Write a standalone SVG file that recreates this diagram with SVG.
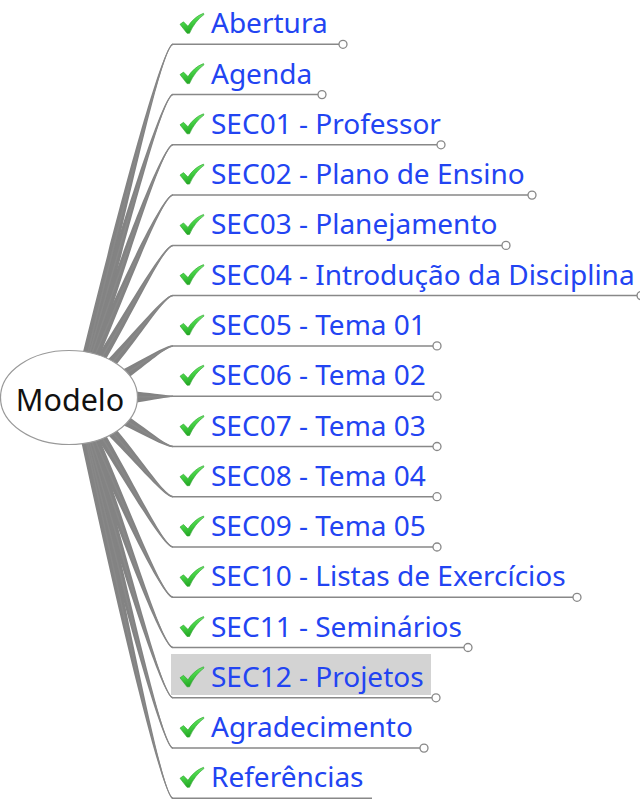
<svg xmlns="http://www.w3.org/2000/svg" xmlns:xlink="http://www.w3.org/1999/xlink" width="640" height="800" viewBox="0 0 640 800">
<style>
.t{font-family:"Noto Sans","Open Sans","DejaVu Sans",sans-serif;font-size:28px;fill:#2244f2}
.root{font-family:"Noto Sans","Open Sans","DejaVu Sans",sans-serif;font-size:30.5px;fill:#111}
.ln{fill:none;stroke:#888;stroke-width:1.5}
.br{fill:#838383}
.end{fill:#fff;stroke:#888;stroke-width:1.3}
</style>
<defs>
<linearGradient id="gg" x1="0" y1="0" x2="0.3" y2="1">
<stop offset="0" stop-color="#b0f7aa"/>
<stop offset="0.45" stop-color="#4bd84b"/>
<stop offset="1" stop-color="#23a823"/>
</linearGradient>
<path id="chk" d="M0,11 L3.5,8.5 L8,13 C11.5,7.5 16.5,2.5 23.5,0 L24,1.2 C18,5.5 13,12 9.5,20 L7,20 Z" fill="url(#gg)" stroke="#2a9f2a" stroke-width="0.6"/>
</defs>
<rect width="640" height="800" fill="#fff"/>
<g id="connectors">
<g class="br">
<path d="M72.14,396.83 C114.64,219.98 162,43.55 173,43.55 L173,45.05 C162,45.05 124.36,222.32 81.86,399.17 Z"/>
<path d="M72.19,396.65 C114.69,245.35 162,93.85 173,93.85 L173,95.35 C162,95.35 124.32,248.05 81.82,399.35 Z"/>
<path d="M72.26,396.41 C114.76,269.81 162,144.05 173,144.05 L173,145.55 C162,145.55 124.24,272.99 81.74,399.59 Z"/>
<path d="M72.39,396.07 C114.89,294.62 162,194.35 173,194.35 L173,195.85 C162,195.85 124.11,298.48 81.61,399.93 Z"/>
<path d="M72.81,395.28 C115.31,329.81 162,244.65 173,244.65 L173,246.15 C162,246.15 123.69,335.25 81.19,400.72 Z"/>
<path d="M73.11,393.44 C115.61,357.19 162,294.85 173,294.85 L173,296.35 C162,296.35 123.39,366.32 80.89,402.57 Z"/>
<path d="M74.58,390.9 C117.08,376.42 162,345.15 173,345.15 L173,346.65 C162,346.65 121.92,390.62 79.42,405.1 Z"/>
<path d="M76.92,388 C119.42,387.64 162,395.45 173,395.45 L173,396.95 C162,396.95 119.58,407.64 77.08,408 Z"/>
<path d="M79.23,390.84 C121.73,404.07 162,445.75 173,445.75 L173,447.25 C162,447.25 117.27,418.39 74.77,405.16 Z"/>
<path d="M80.77,393.33 C123.27,427.68 162,495.95 173,495.95 L173,497.45 C162,497.45 115.73,437.02 73.23,402.67 Z"/>
<path d="M81.15,395.21 C123.65,458.31 162,546.25 173,546.25 L173,547.75 C162,547.75 115.35,463.89 72.85,400.79 Z"/>
<path d="M81.6,396.04 C124.1,495.49 162,596.55 173,596.55 L173,598.05 C162,598.05 114.9,499.42 72.4,399.97 Z"/>
<path d="M81.73,396.39 C124.23,521.14 162,646.75 173,646.75 L173,648.25 C162,648.25 114.77,524.36 72.27,399.61 Z"/>
<path d="M81.81,396.64 C124.31,546.54 162,697.05 173,697.05 L173,698.55 C162,698.55 114.69,549.26 72.19,399.36 Z"/>
<path d="M81.86,396.82 C124.36,571.87 162,747.35 173,747.35 L173,748.85 C162,748.85 114.64,574.23 72.14,399.18 Z"/>
<path d="M81.89,396.96 C124.39,597.11 162,797.55 173,797.55 L173,799.05 C162,799.05 114.61,599.19 72.11,399.04 Z"/>
</g>
<path class="ln" d="M77 398 C119.5,221.15 162,44.3 173,44.3 H339"/>
<path class="ln" d="M77 398 C119.5,246.7 162,94.6 173,94.6 H318"/>
<path class="ln" d="M77 398 C119.5,271.4 162,144.8 173,144.8 H437"/>
<path class="ln" d="M77 398 C119.5,296.55 162,195.1 173,195.1 H528"/>
<path class="ln" d="M77 398 C119.5,332.53 162,245.4 173,245.4 H502"/>
<path class="ln" d="M77 398 C119.5,361.75 162,295.6 173,295.6 H637"/>
<path class="ln" d="M77 398 C119.5,383.52 162,345.9 173,345.9 H433"/>
<path class="ln" d="M77 398 C119.5,397.64 162,396.2 173,396.2 H433"/>
<path class="ln" d="M77 398 C119.5,411.23 162,446.5 173,446.5 H433"/>
<path class="ln" d="M77 398 C119.5,432.35 162,496.7 173,496.7 H433"/>
<path class="ln" d="M77 398 C119.5,461.1 162,547 173,547 H433"/>
<path class="ln" d="M77 398 C119.5,497.45 162,597.3 173,597.3 H573"/>
<path class="ln" d="M77 398 C119.5,522.75 162,647.5 173,647.5 H464"/>
<path class="ln" d="M77 398 C119.5,547.9 162,697.8 173,697.8 H432"/>
<path class="ln" d="M77 398 C119.5,573.05 162,748.1 173,748.1 H420"/>
<path class="ln" d="M77 398 C119.5,598.15 162,798.3 173,798.3 H372"/>
</g>
<g id="root">
<ellipse cx="69" cy="397.5" rx="68.5" ry="47" fill="#fff" stroke="#999" stroke-width="1.2"/>
<text class="root" x="70" y="411" text-anchor="middle">Modelo</text>
</g>
<g id="n-abertura"><use xlink:href="#chk" transform="translate(180 13.3)"/><text class="t" x="211" y="33.3">Abertura</text><circle class="end" cx="343" cy="44.3" r="4"/></g>
<g id="n-agenda"><use xlink:href="#chk" transform="translate(180 63.6)"/><text class="t" x="211" y="83.6">Agenda</text><circle class="end" cx="322" cy="94.6" r="4"/></g>
<g id="n-sec01"><use xlink:href="#chk" transform="translate(180 113.8)"/><text class="t" x="211" y="133.8">SEC01 - Professor</text><circle class="end" cx="441" cy="144.8" r="4"/></g>
<g id="n-sec02"><use xlink:href="#chk" transform="translate(180 164.1)"/><text class="t" x="211" y="184.1">SEC02 - Plano de Ensino</text><circle class="end" cx="532" cy="195.1" r="4"/></g>
<g id="n-sec03"><use xlink:href="#chk" transform="translate(180 214.4)"/><text class="t" x="211" y="234.4">SEC03 - Planejamento</text><circle class="end" cx="506" cy="245.4" r="4"/></g>
<g id="n-sec04"><use xlink:href="#chk" transform="translate(180 264.6)"/><text class="t" x="211" y="284.6">SEC04 - Introdução da Disciplina</text><circle class="end" cx="641" cy="295.6" r="4"/></g>
<g id="n-sec05"><use xlink:href="#chk" transform="translate(180 314.9)"/><text class="t" x="211" y="334.9">SEC05 - Tema 01</text><circle class="end" cx="437" cy="345.9" r="4"/></g>
<g id="n-sec06"><use xlink:href="#chk" transform="translate(180 365.2)"/><text class="t" x="211" y="385.2">SEC06 - Tema 02</text><circle class="end" cx="437" cy="396.2" r="4"/></g>
<g id="n-sec07"><use xlink:href="#chk" transform="translate(180 415.5)"/><text class="t" x="211" y="435.5">SEC07 - Tema 03</text><circle class="end" cx="437" cy="446.5" r="4"/></g>
<g id="n-sec08"><use xlink:href="#chk" transform="translate(180 465.7)"/><text class="t" x="211" y="485.7">SEC08 - Tema 04</text><circle class="end" cx="437" cy="496.7" r="4"/></g>
<g id="n-sec09"><use xlink:href="#chk" transform="translate(180 516)"/><text class="t" x="211" y="536">SEC09 - Tema 05</text><circle class="end" cx="437" cy="547" r="4"/></g>
<g id="n-sec10"><use xlink:href="#chk" transform="translate(180 566.3)"/><text class="t" x="211" y="586.3">SEC10 - Listas de Exercícios</text><circle class="end" cx="577" cy="597.3" r="4"/></g>
<g id="n-sec11"><use xlink:href="#chk" transform="translate(180 616.5)"/><text class="t" x="211" y="636.5">SEC11 - Seminários</text><circle class="end" cx="468" cy="647.5" r="4"/></g>
<g id="n-sec12"><rect x="171" y="654" width="260" height="41" fill="#d3d3d3"/><use xlink:href="#chk" transform="translate(180 666.8)"/><text class="t" x="211" y="686.8">SEC12 - Projetos</text><circle class="end" cx="436" cy="697.8" r="4"/></g>
<g id="n-agradecimento"><use xlink:href="#chk" transform="translate(180 717.1)"/><text class="t" x="211" y="737.1">Agradecimento</text><circle class="end" cx="424" cy="748.1" r="4"/></g>
<g id="n-referencias"><use xlink:href="#chk" transform="translate(180 767.3)"/><text class="t" x="211" y="787.3">Referências</text></g>
</svg>
